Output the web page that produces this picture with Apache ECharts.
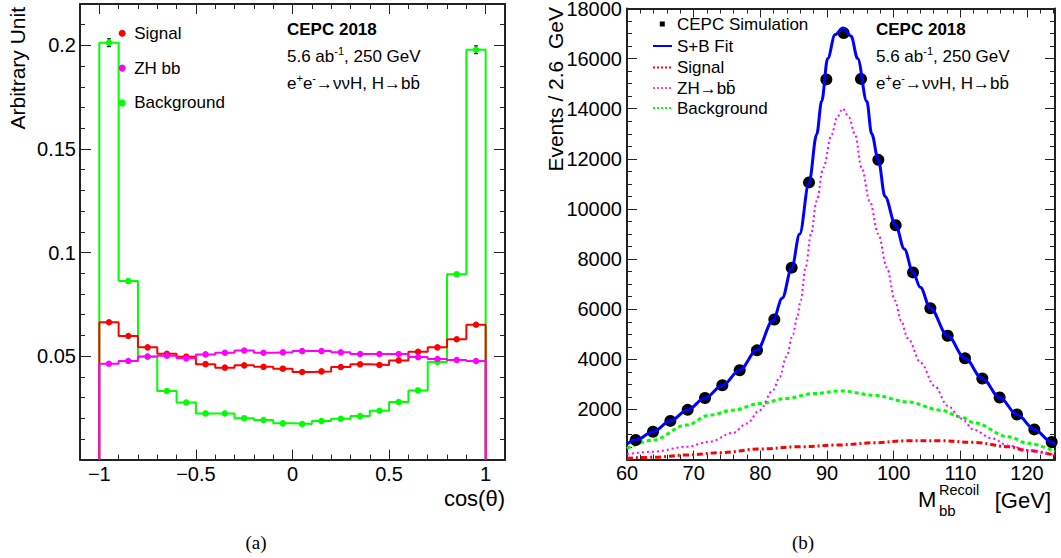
<!DOCTYPE html>
<html><head><meta charset="utf-8">
<script src="https://cdn.jsdelivr.net/npm/echarts@6/dist/echarts.min.js"></script>
<style>html,body{margin:0;padding:0;background:#fff}#c{width:1061px;height:558px}</style>
</head><body><div id="c"></div>
<script>
// ---------- Panel (a): cos(theta) ----------
const cosBinCenters = [-0.95,-0.85,-0.75,-0.65,-0.55,-0.45,-0.35,-0.25,-0.15,-0.05,0.05,0.15,0.25,0.35,0.45,0.55,0.65,0.75,0.85,0.95];
const cosBinWidth = 0.1;
const signalCos = [0.0663,0.0597,0.0542,0.0511,0.0497,0.0461,0.0444,0.0455,0.0448,0.0439,0.0423,0.0426,0.0447,0.0460,0.0457,0.0479,0.0521,0.0542,0.0581,0.0651];
const zhbbCos = [0.0463,0.0476,0.0498,0.0502,0.0489,0.0508,0.0516,0.0527,0.0516,0.0518,0.0524,0.0524,0.0518,0.0510,0.0510,0.0510,0.0495,0.0486,0.0481,0.0476];
const backgroundCos = [0.2013,0.0862,0.0497,0.0331,0.0276,0.0223,0.0223,0.0200,0.0191,0.0175,0.0172,0.0186,0.0197,0.0210,0.0236,0.0278,0.0334,0.0471,0.0895,0.1979];
const backgroundCosErr = [0.0019,0.0009,0.0006,0.0005,0.0005,0.0004,0.0004,0.0004,0.0004,0.0004,0.0004,0.0004,0.0004,0.0004,0.0004,0.0005,0.0005,0.0006,0.0009,0.0019];
const cosLegend = ['Signal','ZH bb','Background'];

// ---------- Panel (b): recoil mass ----------
const massBinCenters = [61.3,63.9,66.5,69.1,71.7,74.3,76.9,79.5,82.1,84.7,87.3,89.9,92.5,95.1,97.7,100.3,102.9,105.5,108.1,110.7,113.3,115.9,118.5,121.1,123.7];
const simEvents = [780,1110,1545,1985,2460,2965,3565,4360,5590,7660,11060,15170,17020,15190,11960,9350,7470,6040,4940,4040,3235,2480,1800,1205,700];
const fitMass = [60,61.3,63.9,66.5,69.1,71.7,74.3,76.9,79.5,81.9,83.3,84.7,85.9,87.3,88.45,89.2,90.1,91.2,92.4,93.6,94.6,95.97,96.7,97.7,98.7,100.3,101.6,102.9,104.0,105.5,108.1,110.7,113.3,115.9,118.5,121.1,123.7,124.2];
const fitEvents = [620,780,1110,1540,1985,2460,2960,3570,4370,5550,6450,7650,9000,11050,12974,14295,16000,16950,17220,16900,16000,14295,13000,11950,10500,9350,8400,7470,6875,6040,4940,4040,3235,2480,1800,1205,700,600];
const zhMass = [60,63.9,68.9,72.4,75.9,78,79.9,81.9,82.9,83.9,84.9,85.5,86.05,86.8,87.6,88.45,89.45,90.7,91.5,92.36,93.3,94.2,95.2,96.4,97.7,98.97,100.2,101.1,102.1,104.1,106.1,108.1,110.1,112.1,114.7,117.2,120.2,124.2];
const zhEvents = [223,314,513,712,1070,1443,1972,2767,3296,4100,5000,5650,6346,7670,9000,10322,11646,12974,13650,14007,13650,12974,11646,10322,9000,7670,6346,5550,4850,3850,2950,2150,1640,1180,850,560,380,185];
const bkgMass = [60,63.9,68.9,72.4,75.9,79.9,83.9,87.9,92.1,97.1,102.1,107.1,110.1,112.1,117.2,120.2,124.2];
const bkgEvents = [449,779,1376,1773,1972,2238,2437,2636,2740,2568,2302,1972,1700,1467,911,648,314];
const sigMass = [60,63.9,68.9,73.9,79.9,85.9,91.5,97.1,101.9,107.1,112.1,117.2,120.2,124.2];
const sigEvents = [52,91,183,274,421,513,580,672,752,752,688,513,354,171];
const massLegend = ['CEPC Simulation','S+B Fit','Signal','ZH\u2192bb\u0304','Background'];

// ---------- layout ----------
const FONT = 'Liberation Sans, Arial, Helvetica, sans-serif';
const A = {left: 80, top: 4, width: 425, height: 455.6, xmin: -1.1, xmax: 1.1, ymax: 0.22};
const B = {left: 627, top: 8.5, width: 428, height: 451.1, xmin: 60, xmax: 124.2, ymax: 18000};
const aMajLeft = A.left + (-1 - A.xmin) / (A.xmax - A.xmin) * A.width;
const aMajWidth = 2 / (A.xmax - A.xmin) * A.width;
const FRAME = '#222';
const RED = '#ff0000', GREEN = '#00ff00', MAGENTA = '#ff00ff', BLUE = '#0000ff';

function stepData(centers, vals, w) {
  const d = [[centers[0] - w / 2, 0]];
  centers.forEach((c, i) => d.push([c - w / 2, vals[i]]));
  const last = centers[centers.length - 1] + w / 2;
  d.push([last, vals[vals.length - 1]]);
  d.push([last, 0]);
  return d;
}
const zip = (xs, ys) => xs.map((x, i) => [x, ys[i]]);
const minusFmt = v => (v < 0 ? '\u2212' + Math.abs(v) : String(v));

function xAx(grid, pos, min, max, interval, tickLen, labels, lineShow) {
  return {type: 'value', gridIndex: grid, position: pos, min, max, interval,
    axisLine: {show: lineShow, onZero: false, lineStyle: {color: FRAME, width: 2}},
    axisTick: {show: true, inside: true, length: tickLen, lineStyle: {color: FRAME, width: 1}},
    axisLabel: labels ? Object.assign({show: true, fontSize: 20, color: '#000', fontFamily: FONT, margin: 4, formatter: minusFmt}, labels) : {show: false},
    splitLine: {show: false}};
}
function yAx(grid, pos, min, max, interval, tickLen, labels, lineShow, minor) {
  return {type: 'value', gridIndex: grid, position: pos, min, max, interval,
    axisLine: {show: lineShow, onZero: false, lineStyle: {color: FRAME, width: 2}},
    axisTick: {show: true, inside: true, length: tickLen, lineStyle: {color: FRAME, width: 1}},
    minorTick: minor ? {show: true, splitNumber: minor, length: 5, lineStyle: {color: FRAME, width: 1}} : {show: false},
    axisLabel: labels ? Object.assign({show: true, fontSize: 20, color: '#000', fontFamily: FONT, margin: 5}, labels) : {show: false},
    splitLine: {show: false}};
}

const grids = [
  {left: A.left, top: A.top, width: A.width, height: A.height, outerBoundsMode: 'none', containLabel: false},
  {left: aMajLeft, top: A.top, width: aMajWidth, height: A.height, outerBoundsMode: 'none', containLabel: false},
  {left: B.left, top: B.top, width: B.width, height: B.height, outerBoundsMode: 'none', containLabel: false}
];
const xAxes = [
  xAx(0, 'bottom', A.xmin, A.xmax, 0.1, 5, null, true),
  xAx(0, 'top', A.xmin, A.xmax, 0.1, 5, null, true),
  xAx(1, 'bottom', -1, 1, 0.5, 10, {margin: 4}, false),
  xAx(1, 'top', -1, 1, 0.5, 10, null, false),
  xAx(2, 'bottom', B.xmin, B.xmax, 10, 9, {showMaxLabel: false, margin: 5, lineHeight: 16, formatter: v => String(v)}, true),
  xAx(2, 'top', B.xmin, B.xmax, 10, 9, null, true),
  xAx(2, 'bottom', B.xmin, B.xmax, 2, 5, null, false),
  xAx(2, 'top', B.xmin, B.xmax, 2, 5, null, false)
];
const yAxes = [
  yAx(0, 'left', 0, A.ymax, 0.05, 11, {showMinLabel: false, showMaxLabel: false, margin: 4}, true),
  yAx(0, 'right', 0, A.ymax, 0.05, 11, null, true),
  yAx(0, 'left', 0, A.ymax, 0.01, 5, null, false),
  yAx(0, 'right', 0, A.ymax, 0.01, 5, null, false),
  {type: 'value', gridIndex: 1, show: false, min: 0, max: 1},
  yAx(2, 'left', 0, B.ymax, 2000, 10, {showMinLabel: false, lineHeight: 14, formatter: v => String(v)}, true, 4),
  yAx(2, 'right', 0, B.ymax, 2000, 10, null, true, 4)
];

const histLine = (name, color, vals) => ({name, type: 'line', xAxisIndex: 0, yAxisIndex: 0, step: 'end',
  data: stepData(cosBinCenters, vals, cosBinWidth), showSymbol: false, symbol: 'none',
  lineStyle: {color, width: 2}, itemStyle: {color}, silent: true, animation: false});
const histPts = (name, color, vals, z) => ({name, type: 'scatter', xAxisIndex: 0, yAxisIndex: 0,
  data: zip(cosBinCenters, vals), symbol: 'circle', symbolSize: 6.5, itemStyle: {color, opacity: 1}, z, animation: false});
const curve = (name, color, xs, ys, width, type, z) => ({name, type: 'line', xAxisIndex: 4, yAxisIndex: 5,
  data: zip(xs, ys), smooth: 0.35, smoothMonotone: 'x', showSymbol: false, symbol: 'none',
  lineStyle: {color, width, type}, itemStyle: {color}, z, animation: false});

const series = [
  histLine('bkg-hist', GREEN, backgroundCos),
  histLine('sig-hist', RED, signalCos),
  histLine('zh-hist', MAGENTA, zhbbCos),
  {name: 'bkg-err', type: 'custom', xAxisIndex: 0, yAxisIndex: 0, z: 3, animation: false,
   data: cosBinCenters.map((c, i) => [c, backgroundCos[i], backgroundCosErr[i]]),
   renderItem(params, api) {
     const x = api.value(0), y = api.value(1), e = api.value(2);
     const p1 = api.coord([x, y + e]), p2 = api.coord([x, y - e]);
     const st = {stroke: '#000', lineWidth: 1};
     return {type: 'group', children: [
       {type: 'line', shape: {x1: p1[0], y1: p1[1], x2: p2[0], y2: p2[1]}, style: st},
       {type: 'line', shape: {x1: p1[0] - 2, y1: p1[1], x2: p1[0] + 2, y2: p1[1]}, style: st},
       {type: 'line', shape: {x1: p2[0] - 2, y1: p2[1], x2: p2[0] + 2, y2: p2[1]}, style: st}]};
   }},
  histPts('Background', GREEN, backgroundCos, 4),
  histPts('Signal', RED, signalCos, 4),
  histPts('ZH bb', MAGENTA, zhbbCos, 4),
  curve('bkg-curve', GREEN, bkgMass, bkgEvents, 3, [4, 3], 2),
  curve('sig-curve', RED, sigMass, sigEvents, 3, [6, 3, 2, 3], 2),
  curve('zh-curve', MAGENTA, zhMass, zhEvents, 2, [2, 3], 2),
  {name: 'sim', type: 'scatter', xAxisIndex: 4, yAxisIndex: 5, data: zip(massBinCenters, simEvents),
   symbol: 'circle', symbolSize: 12, itemStyle: {color: '#000', opacity: 1}, z: 3, animation: false},
  curve('fit', BLUE, fitMass, fitEvents, 3, 'solid', 4)
];

const txt = (x, y, text, extra) => ({type: 'text', x, y, silent: true,
  style: Object.assign({text, fontSize: 17, fontFamily: FONT, fill: '#000', align: 'left', textAlign: 'left', verticalAlign: 'middle', textVerticalAlign: 'middle'}, extra || {})});
const rich = {n: {fontSize: 17, fontFamily: FONT, lineHeight: 22}, s: {fontSize: 11, fontFamily: FONT, lineHeight: 12, verticalAlign: 'top'}};
const lumiText = '{n|5.6 ab}{s|-1}{n|, 250 GeV}';
const procText = '{n|e}{s|+}{n|e}{s|-}{n|\u2192\u03bd\u03bdH, H\u2192bb\u0304}';
const seg = (x1, y, x2, color, width, dash) => ({type: 'line', silent: true, shape: {x1, y1: y, x2, y2: y},
  style: {stroke: color, lineWidth: width, lineDash: dash}});

const legRows = [24, 46, 67.5, 88, 108];
const graphics = [
  txt(287, 29, 'CEPC 2018', {fontWeight: 'bold'}),
  txt(287, 56, lumiText, {rich}),
  txt(287, 83, procText, {rich}),
  txt(17, 7, 'Arbitrary Unit', {fontSize: 21, align: 'right', textAlign: 'right'}),
  txt(505, 498, 'cos(\u03b8)', {fontSize: 22, align: 'right', textAlign: 'right'}),
  txt(256, 542, '(a)', {fontSize: 19, fontFamily: 'Liberation Serif, DejaVu Serif, serif', align: 'center', textAlign: 'center'}),
  txt(876, 29, 'CEPC 2018', {fontWeight: 'bold'}),
  txt(876, 56, lumiText, {rich}),
  txt(876, 83, procText, {rich}),
  txt(555, 7, 'Events / 2.6\u00a0 GeV', {fontSize: 21, align: 'right', textAlign: 'right'}),
  txt(918, 499, 'M', {fontSize: 22}),
  txt(939, 489.5, 'Recoil', {fontSize: 14.5, lineHeight: 15}),
  txt(939, 510, 'bb', {fontSize: 15}),
  txt(1051, 500, '[GeV]', {fontSize: 22, align: 'right', textAlign: 'right'}),
  txt(803, 542, '(b)', {fontSize: 19, fontFamily: 'Liberation Serif, DejaVu Serif, serif', align: 'center', textAlign: 'center'}),
  {type: 'rect', silent: true, shape: {x: 659.8, y: legRows[0] - 2.5, width: 5, height: 5}, style: {fill: '#000'}},
  seg(653, legRows[1], 672, BLUE, 2, null),
  seg(653, legRows[2], 672, RED, 2, [2, 2]),
  seg(653, legRows[3], 672, MAGENTA, 1.5, [2, 2]),
  seg(653, legRows[4], 672, GREEN, 2, [2, 2])
];
massLegend.forEach((t, i) => graphics.push(txt(677, legRows[i], t)));
graphics[3].rotation = Math.PI / 2;
graphics[9].rotation = Math.PI / 2;

const chart = echarts.init(document.getElementById('c'), null, {renderer: 'svg', width: 1061, height: 558});
chart.setOption({
  animation: false,
  backgroundColor: '#fff',
  textStyle: {fontFamily: FONT},
  grid: grids,
  xAxis: xAxes,
  yAxis: yAxes,
  legend: [{data: cosLegend, orient: 'vertical', left: 118.7, top: 23.3, padding: 0, itemWidth: 14, itemHeight: 7,
    itemGap: 14.8, icon: 'circle', selectedMode: false,
    textStyle: {fontSize: 17, lineHeight: 20, color: '#000', fontFamily: FONT}}],
  series,
  graphic: graphics
});
</script></body></html>
